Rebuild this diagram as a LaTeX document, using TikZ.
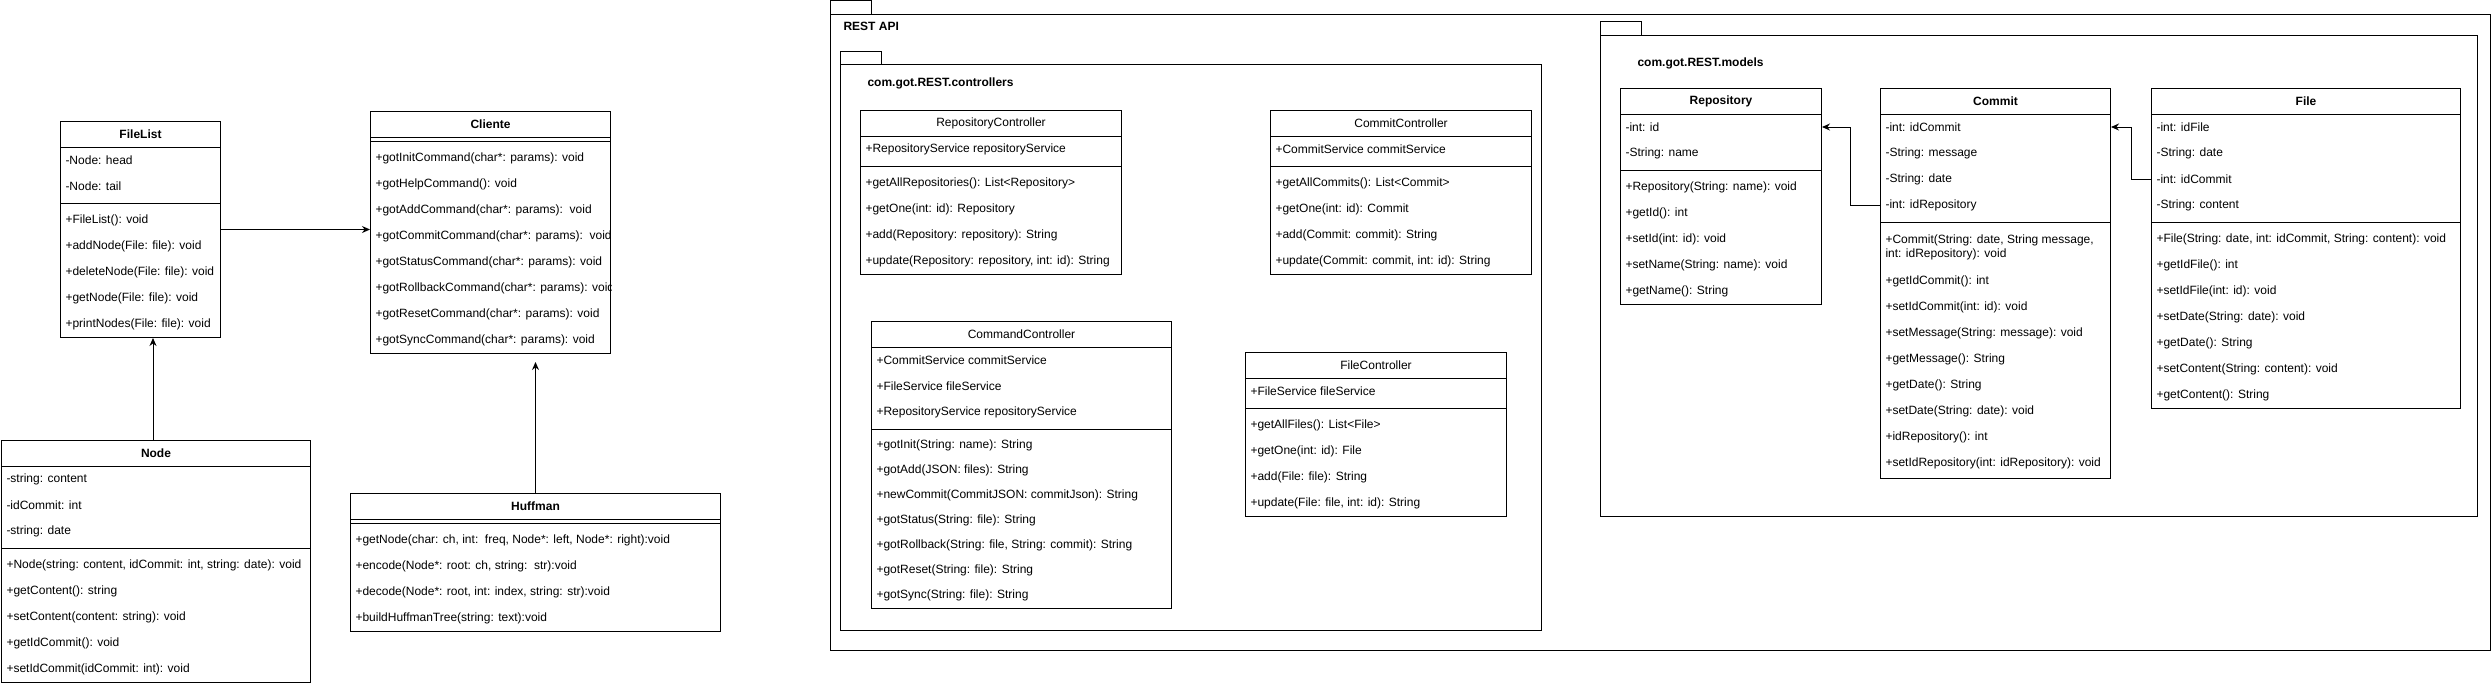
\documentclass[tikz,border=0pt]{standalone}
\usepackage{fontspec}
\setmainfont{Liberation Sans}
\usetikzlibrary{positioning, calc, arrows.meta}
\definecolor{linec}{HTML}{000000}
\definecolor{textc}{HTML}{000000}
\newcommand{\UmlF}{\fontsize{12}{14}\selectfont}
\newcommand{\umlbox}[6]{%
  \node[cls, minimum width=#4pt, minimum height=#5pt] (#1) at (#2,#3) {};
  \node[ttl] (#1-t) at ($(#1.north)+(0,13)$) {#6};
  \draw[linec] ($(#1.north west)+(0,26)$) -- ($(#1.north east)+(0,26)$);
}
\newcommand{\sepline}[2]{%
  \draw[linec] ($(#1.north west)+(0,#2)$) -- ($(#1.north east)+(0,#2)$);
}
\newcommand{\classrows}[5]{%
  \foreach \lbl [count=\rowi] in {#5}
    \node[mem] (#1-#2\rowi) at ($(#1.north west)+(5,{#3+#4*(\rowi-1)})$) {\lbl};
}

\begin{document}
\begin{tikzpicture}[x=1pt, y=-1pt, line width=1pt,
  cls/.style={draw=linec, anchor=north west, inner sep=0pt},
  ttl/.style={font=\UmlF, text=textc, inner sep=0pt},
  mem/.style={font=\UmlF, text=textc, anchor=west, inner sep=0pt, align=left},
  pkg/.style={draw=linec, anchor=north west, inner sep=0pt},
  pkglbl/.style={font=\UmlF\bfseries, text=textc, anchor=west, inner sep=0pt},
  arr/.style={draw=linec, -{Stealth[length=8pt, width=7pt]}}]
\useasboundingbox (0,0) rectangle (2492,686);

\node[pkg, minimum width=1660pt, minimum height=636pt] (rest) at (830,14) {};
\draw[linec] (rest.north west) rectangle ++(41,-14);
\node[pkglbl] (rest-l) at (843,26) {REST API};
\node[pkg, minimum width=701pt, minimum height=566pt] (ctrl) at (840,64) {};
\draw[linec] (ctrl.north west) rectangle ++(41,-13);
\node[pkglbl] (ctrl-l) at (867,83) {com.got.REST.controllers};
\node[pkg, minimum width=877pt, minimum height=481pt] (models) at (1600,35) {};
\draw[linec] (models.north west) rectangle ++(41,-14);
\node[pkglbl] (models-l) at (1637,63) {com.got.REST.models};

\umlbox{filelist}{60}{121}{160}{216}{\textbf{FileList}}
\classrows{filelist}{a}{39}{26}{-Node: head, -Node: tail}
\sepline{filelist}{82}
\classrows{filelist}{m}{99}{26}{+FileList(): void, +addNode(File: file): void, +deleteNode(File: file): void, +getNode(File: file): void, +printNodes(File: file): void}

\umlbox{cliente}{370}{111}{240}{242}{\textbf{Cliente}}
\sepline{cliente}{30}
\begin{scope}
\clip (cliente.north west) rectangle (cliente.south east);
\classrows{cliente}{m}{47}{26}{+gotInitCommand(char*: params): void, +gotHelpCommand(): void, +gotAddCommand(char*: params):\ \ void, +gotCommitCommand(char*: params):\ \ void, +gotStatusCommand(char*: params): void, +gotRollbackCommand(char*: params): void, +gotResetCommand(char*: params): void, +gotSyncCommand(char*: params): void}
\end{scope}

\umlbox{nodecls}{1}{440}{309}{242}{\textbf{Node}}
\classrows{nodecls}{a}{39}{26}{-string: content, -idCommit: int, -string: date}
\sepline{nodecls}{108}
\classrows{nodecls}{m}{125}{26}{{+Node(string: content, idCommit: int, string: date): void}, +getContent(): string, +setContent(content: string): void, +getIdCommit(): void, +setIdCommit(idCommit: int): void}

\umlbox{huffman}{350}{493}{370}{138}{\textbf{Huffman}}
\sepline{huffman}{30}
\classrows{huffman}{m}{47}{26}{{+getNode(char: ch, int:\ \ freq, Node*: left, Node*: right):void}, {+encode(Node*: root: ch, string:\ \ str):void}, {+decode(Node*: root, int: index, string: str):void}, +buildHuffmanTree(string: text):void}

\umlbox{repoctl}{860}{110}{261}{164}{RepositoryController}
\classrows{repoctl}{a}{39}{26}{+RepositoryService repositoryService}
\sepline{repoctl}{56}
\classrows{repoctl}{m}{73}{26}{+getAllRepositories(): List<Repository>, +getOne(int: id): Repository, +add(Repository: repository): String, {+update(Repository: repository, int: id): String}}

\umlbox{commitctl}{1270}{110}{261}{164}{CommitController}
\classrows{commitctl}{a}{39}{26}{+CommitService commitService}
\sepline{commitctl}{56}
\classrows{commitctl}{m}{73}{26}{+getAllCommits(): List<Commit>, +getOne(int: id): Commit, +add(Commit: commit): String, {+update(Commit: commit, int: id): String}}

\umlbox{cmdctl}{871}{321}{300}{287}{CommandController}
\classrows{cmdctl}{a}{39}{26}{+CommitService commitService, +FileService fileService, +RepositoryService repositoryService}
\sepline{cmdctl}{108}
\classrows{cmdctl}{m}{124.5}{25}{+gotInit(String: name): String, +gotAdd(JSON: files): String, +newCommit(CommitJSON: commitJson): String, +gotStatus(String: file): String, {+gotRollback(String: file, String: commit): String}, +gotReset(String: file): String, +gotSync(String: file): String}

\umlbox{filectl}{1245}{352}{261}{164}{FileController}
\classrows{filectl}{a}{39}{26}{+FileService fileService}
\sepline{filectl}{56}
\classrows{filectl}{m}{73}{26}{+getAllFiles(): List<File>, +getOne(int: id): File, +add(File: file): String, {+update(File: file, int: id): String}}

\umlbox{repo}{1620}{88}{201}{216}{\textbf{Repository}}
\classrows{repo}{a}{39}{26}{-int: id, -String: name}
\sepline{repo}{82}
\classrows{repo}{m}{99}{26}{+Repository(String: name): void, +getId(): int, +setId(int: id): void, +setName(String: name): void, +getName(): String}

\umlbox{commit}{1880}{88}{230}{390}{\textbf{Commit}}
\classrows{commit}{a}{39}{26}{-int: idCommit, -String: message, -String: date, -int: idRepository}
\sepline{commit}{134}
\node[mem] (commit-c) at ($(commit.north west)+(5,159)$) {+Commit(String: date, String message,\\int: idRepository): void};
\classrows{commit}{m}{193}{26}{+getIdCommit(): int, +setIdCommit(int: id): void, +setMessage(String: message): void, +getMessage(): String, +getDate(): String, +setDate(String: date): void, +idRepository(): int, +setIdRepository(int: idRepository): void}

\umlbox{file}{2151}{88}{309}{320}{\textbf{File}}
\classrows{file}{a}{39}{26}{-int: idFile, -String: date, -int: idCommit, -String: content}
\sepline{file}{134}
\classrows{file}{m}{151}{26}{{+File(String: date, int: idCommit, String: content): void}, +getIdFile(): int, +setIdFile(int: id): void, +setDate(String: date): void, +getDate(): String, +setContent(String: content): void, +getContent(): String}

\coordinate (clientetip) at ($(cliente.south -| huffman.north)+(0,8)$);
\coordinate (nodetop) at ($(nodecls.north)+(-3,0)$);
\draw[arr] (filelist.east) -- (filelist.east -| cliente.west);
\draw[arr] (nodetop) -- (nodetop |- filelist.south);
\draw[arr] (huffman.north) -- (clientetip);
\draw[arr] (commit.west |- commit-a4) -- ++(-30,0) |- (repo.east |- repo-a1);
\draw[arr] (file.west |- file-a3) -- ++(-20,0) |- (commit.east |- commit-a1);
\end{tikzpicture}
\end{document}
